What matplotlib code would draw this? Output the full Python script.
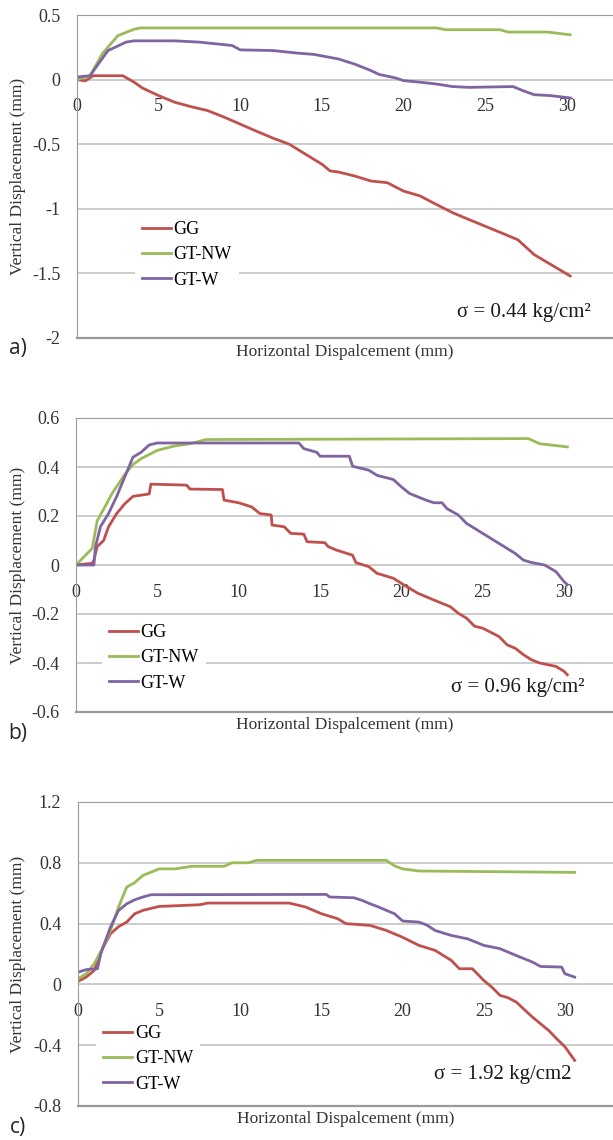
import matplotlib
matplotlib.use("Agg")
import matplotlib.pyplot as plt
from matplotlib.ticker import FuncFormatter

plt.rcParams["font.family"] = ["Liberation Serif", "DejaVu Serif"]
plt.rcParams["axes.unicode_minus"] = False

W, H = 613, 1140

# ---- data (mm) ----
labels = ["GG", "GT-NW", "GT-W"]
colors = ["#C0504D", "#9BBB59", "#8064A2"]
xticks = [0, 5, 10, 15, 20, 25, 30]

# a) sigma = 0.44
a_gg_x = [0, 0.5, 1, 2.8, 3.5, 4, 5, 6, 7, 8, 9, 10, 11, 12, 13, 14, 15, 15.5, 16, 17,
          18, 19, 20, 21, 22, 23, 24, 25, 26, 27, 28, 29, 30.2]
a_gg_y = [0, -0.01, 0.03, 0.03, -0.02, -0.065, -0.124, -0.176, -0.21, -0.24, -0.29, -0.345,
          -0.40, -0.453, -0.50, -0.578, -0.655, -0.707, -0.715, -0.746, -0.785, -0.798, -0.863,
          -0.90, -0.966, -1.03, -1.083, -1.135, -1.187, -1.24, -1.355, -1.43, -1.52]
a_nw_x = [0, 0.8, 1.55, 2.5, 3.5, 3.9, 22, 22.6, 25.9, 26.4, 28.8, 30.2]
a_nw_y = [0, 0.03, 0.2, 0.34, 0.39, 0.4, 0.4, 0.386, 0.386, 0.368, 0.368, 0.347]
a_w_x = [0, 0.8, 1.3, 1.9, 2.5, 3.0, 3.5, 6, 7.5, 9.5, 10, 12, 13.5, 14.5, 16, 17, 18, 18.5,
         19.5, 20, 21, 22, 23, 24, 26.7, 27.3, 28, 29, 30.2]
a_w_y = [0.02, 0.03, 0.12, 0.225, 0.26, 0.29, 0.30, 0.30, 0.29, 0.264, 0.23, 0.225, 0.205,
         0.195, 0.16, 0.12, 0.07, 0.04, 0.013, -0.008, -0.02, -0.034, -0.054, -0.06, -0.054,
         -0.085, -0.117, -0.124, -0.142]
a_yticks = [-2, -1.5, -1, -0.5, 0, 0.5]

# b) sigma = 0.96
b_gg_x = [0, 1, 1.1, 1.3, 1.7, 2, 2.5, 3, 3.5, 4.5, 4.6, 6.8, 7, 9, 9.1, 10, 10.8, 11.3, 12,
          12.05, 12.8, 13.2, 14, 14.2, 15.3, 15.5, 16, 17, 17.2, 18, 18.5, 19.5, 20, 21, 22,
          23, 23.5, 24, 24.5, 25, 26, 26.5, 27, 27.5, 28, 28.5, 29.5, 30, 30.2]
b_gg_y = [0, 0.007, 0.02, 0.075, 0.1, 0.156, 0.21, 0.25, 0.28, 0.29, 0.33, 0.326, 0.31, 0.308,
          0.265, 0.254, 0.237, 0.21, 0.204, 0.163, 0.156, 0.129, 0.126, 0.095, 0.091, 0.075,
          0.061, 0.04, 0.01, -0.007, -0.034, -0.054, -0.075, -0.115, -0.143, -0.17, -0.197,
          -0.217, -0.25, -0.258, -0.292, -0.326, -0.34, -0.366, -0.387, -0.40, -0.414, -0.434,
          -0.448]
b_nw_x = [0, 0.5, 1, 1.3, 1.8, 2.2, 2.6, 3, 3.5, 4, 5, 6, 7, 8, 27.8, 28.5, 30.2]
b_nw_y = [0, 0.034, 0.068, 0.18, 0.24, 0.29, 0.33, 0.37, 0.41, 0.434, 0.468, 0.485, 0.495,
          0.512, 0.516, 0.495, 0.482]
b_w_x = [0, 1.1, 1.2, 1.5, 2, 2.5, 3, 3.5, 4, 4.5, 5, 13.7, 14, 14.8, 15, 16.8, 17, 18, 18.5,
         19.5, 20, 20.5, 21.5, 22, 22.5, 22.8, 23.5, 24, 25, 26, 27, 27.5, 28, 28.8, 29.5, 30,
         30.2]
b_w_y = [0, 0, 0.075, 0.156, 0.21, 0.28, 0.36, 0.44, 0.46, 0.49, 0.498, 0.498, 0.475, 0.46,
         0.444, 0.444, 0.403, 0.387, 0.366, 0.349, 0.319, 0.292, 0.265, 0.254, 0.254, 0.23,
         0.204, 0.17, 0.129, 0.088, 0.047, 0.02, 0.01, 0.0, -0.027, -0.068, -0.08]
b_yticks = [-0.6, -0.4, -0.2, 0, 0.2, 0.4, 0.6]

# c) sigma = 1.92
c_gg_x = [0, 0.5, 1, 1.5, 2, 2.5, 3, 3.5, 4, 5, 7.5, 8, 13, 14, 15, 16, 16.5, 18, 19, 20, 21,
          22, 23, 23.5, 24.3, 25, 25.5, 26, 26.5, 27, 28, 29, 29.5, 30, 30.6]
c_gg_y = [0.02, 0.048, 0.092, 0.235, 0.333, 0.38, 0.41, 0.465, 0.487, 0.513, 0.524, 0.535,
          0.535, 0.51, 0.465, 0.432, 0.40, 0.388, 0.355, 0.31, 0.257, 0.224, 0.158, 0.103,
          0.103, 0.026, -0.018, -0.072, -0.088, -0.116, -0.215, -0.303, -0.358, -0.41, -0.50]
c_nw_x = [0, 0.5, 1, 1.5, 2, 2.5, 3, 3.5, 4, 5, 6, 7, 9, 9.5, 10.5, 11, 19, 19.5, 20, 21, 30.6]
c_nw_y = [0.037, 0.07, 0.136, 0.235, 0.355, 0.51, 0.64, 0.67, 0.717, 0.76, 0.76, 0.777, 0.777,
          0.80, 0.80, 0.816, 0.816, 0.78, 0.76, 0.746, 0.737]
c_w_x = [0, 0.5, 1.2, 1.4, 1.7, 2, 2.5, 3, 3.5, 4, 4.5, 15.3, 15.5, 17, 17.5, 18, 18.5, 19,
         19.5, 20, 21, 21.5, 22, 23, 24, 25, 26, 27, 28, 28.5, 29.8, 30, 30.6]
c_w_y = [0.08, 0.097, 0.103, 0.2, 0.29, 0.377, 0.487, 0.53, 0.557, 0.575, 0.59, 0.592, 0.575,
         0.57, 0.553, 0.53, 0.51, 0.487, 0.465, 0.417, 0.41, 0.39, 0.355, 0.322, 0.30, 0.257,
         0.235, 0.19, 0.147, 0.118, 0.114, 0.07, 0.048]
c_yticks = [-0.8, -0.4, 0, 0.4, 0.8, 1.2]


def draw_panel(fig, box, xmax, yticks, series, sigma, sigma_xy, leg_xy, tag, tag_y, xlab_y):
    # box = (left px, top px, bottom px) in figure pixels
    left, top, bottom = box
    ax = fig.add_axes([left / W, 1 - bottom / H, 1 - left / W, (bottom - top) / H])
    for (xs, ys), lab, col in zip(series, labels, colors):
        ax.plot(xs, ys, color=col, lw=2.0, label=lab, solid_joinstyle="round")

    ax.set_xlim(0, xmax)
    ax.set_ylim(yticks[0], yticks[-1])
    ax.set_xticks(xticks)
    ax.set_yticks(yticks)
    ax.yaxis.set_major_formatter(FuncFormatter(lambda v, p: f"{v:g}"))
    ax.grid(axis="y", color="#C8C8C8", lw=1.3)
    ax.set_axisbelow(True)

    ax.spines["right"].set_visible(False)
    ax.spines["left"].set_color("#9A9A9A")
    ax.spines["top"].set_color("#9A9A9A")
    ax.spines["bottom"].set_position(("data", 0))
    ax.spines["bottom"].set_visible(False)
    ax.axhline(yticks[0], color="#9A9A9A", lw=1.6, clip_on=False)

    ax.tick_params(axis="x", length=0, pad=13.5, labelsize=13, colors="#333333")
    ax.tick_params(axis="y", length=0, pad=12, labelsize=13, colors="#333333")

    ax.set_ylabel("Vertical Displacement (mm)", fontsize=12.5, color="#333333")
    ax.yaxis.set_label_coords((18 - left) / (W - left), 0.5)
    ax.yaxis.label.set_va("center")
    ax.set_xlabel("Horizontal Dispalcement (mm)", fontsize=12.5, color="#333333")
    ax.xaxis.set_label_coords(0.5, -(xlab_y - bottom) / (bottom - top))
    ax.xaxis.label.set_va("center")

    leg = ax.legend(loc="center left", bbox_to_anchor=leg_xy, frameon=True, fontsize=13,
                    handlelength=1.6, handletextpad=0.15, labelspacing=0.45,
                    borderaxespad=0, borderpad=0.4, fancybox=False)
    leg.get_frame().set_facecolor("white")
    leg.get_frame().set_edgecolor("none")
    leg.get_frame().set_alpha(1)

    ax.text(sigma_xy[0], sigma_xy[1], sigma, transform=ax.transAxes, ha="center",
            va="center", fontsize=15, color="#1a1a1a")
    fig.text(18 / W, 1 - tag_y / H, tag, ha="center", va="center", fontsize=15,
             family=["Open Sans", "DejaVu Sans"], color="#222222")
    return ax


fig = plt.figure(figsize=(W / 100, H / 100), dpi=100)

draw_panel(fig, (77, 15, 338), (W - 77) / 16.33, a_yticks,
           [(a_gg_x, a_gg_y), (a_nw_x, a_nw_y), (a_w_x, a_w_y)],
           "σ = 0.44 kg/cm²", (0.834, 0.080), (0.108, 0.257), "a)", 348, 352)
draw_panel(fig, (76, 418, 712), (W - 76) / 16.27, b_yticks,
           [(b_gg_x, b_gg_y), (b_nw_x, b_nw_y), (b_w_x, b_w_y)],
           "σ = 0.96 kg/cm²", (0.822, 0.085), (0.048, 0.184), "b)", 733, 725)
draw_panel(fig, (78, 802, 1106), (W - 78) / 16.23, c_yticks,
           [(c_gg_x, c_gg_y), (c_nw_x, c_nw_y), (c_w_x, c_w_y)],
           "σ = 1.92 kg/cm2", (0.793, 0.102), (0.034, 0.155), "c)", 1128, 1119)

fig.savefig("out.png", dpi=100)
